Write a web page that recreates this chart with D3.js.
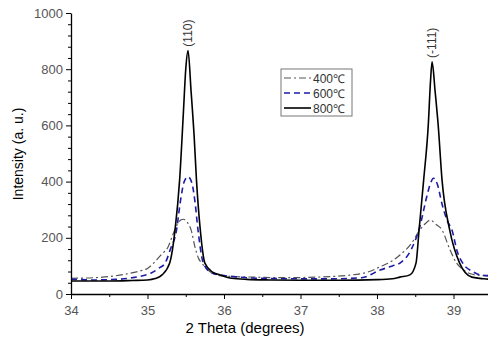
<!DOCTYPE html>
<html>
<head>
<meta charset="utf-8">
<script src="https://cdn.jsdelivr.net/npm/d3@7"></script>
<style>
	body{margin:0;background:#fff;}
	svg{display:block;font-family:"Liberation Sans",Arial,sans-serif;}
</style>
</head>
<body>
<div id="container"></div>
<script>
// values: 2theta (deg) and intensity (a.u.)
var x400 = [34.0,34.3,34.5,34.7,34.9,35.0,35.08,35.18,35.27,35.33,35.39,35.44,35.47,35.52,35.57,35.62,35.67,35.71,35.78,35.86,36.0,36.4,36.8,37.2,37.6,37.9,38.04,38.2,38.3,38.45,38.56,38.63,38.7,38.76,38.85,38.95,39.04,39.12,39.22,39.35,39.5];
var y400 = [56,58,62,70,82,91,110,140,168,210,248,264,266,255,228,168,125,110,88,72,64,60,58,60,66,80,97,118,139,180,228,250,263,250,228,160,110,88,72,66,64];

var x600 = [34.0,34.3,34.6,34.8,35.0,35.05,35.15,35.23,35.3,35.38,35.43,35.48,35.53,35.58,35.62,35.66,35.73,35.84,35.95,36.2,36.6,37.0,37.4,37.8,38.04,38.2,38.3,38.45,38.56,38.65,38.7,38.74,38.79,38.85,38.92,38.98,39.05,39.12,39.25,39.35,39.5];
var y600 = [53,50,52,58,70,75,92,110,160,228,330,400,417,395,330,228,110,75,68,60,55,54,54,58,85,100,110,160,240,346,395,412,390,320,260,228,150,110,80,68,65];

var x800 = [34.0,34.5,34.8,35.0,35.1,35.19,35.29,35.36,35.42,35.47,35.5,35.53,35.57,35.61,35.64,35.69,35.75,35.85,35.95,36.1,36.3,36.6,37.0,37.5,38.0,38.2,38.3,38.43,38.51,38.55,38.61,38.67,38.7,38.72,38.76,38.8,38.85,38.95,39.08,39.24,39.4,39.5];
var y800 = [46,46,48,50,55,68,110,228,406,650,800,866,720,560,406,228,110,78,68,56,52,50,49,49,51,54,60,68,110,228,406,600,760,826,720,600,406,228,110,60,54,52];

var seriesNames = ['400\u2103','600\u2103','800\u2103'];
var peakLabels = ['(110)','(-111)'];
var peakPos = [35.53,38.72];
var peakTop = [866,826];
var xTicks = [34,35,36,37,38,39];
var yTicks = [0,200,400,600,800,1000];

var W = 488, H = 341;
var svg = d3.select('#container').append('svg')
	.attr('width',W).attr('height',H);

var x = d3.scaleLinear().domain([34,39.5]).range([71,491.75]);
var y = d3.scaleLinear().domain([0,1000]).range([294,13]);

var series = [
	{name:seriesNames[0],xs:x400,ys:y400,color:'#555',dash:'7,3,2,3',w:1.2},
	{name:seriesNames[1],xs:x600,ys:y600,color:'#1c1ca8',dash:'6,4',w:1.6},
	{name:seriesNames[2],xs:x800,ys:y800,color:'#000',dash:null,w:1.6}
];

var line = d3.line()
	.x(function(d){ return x(d[0]); })
	.y(function(d){ return y(d[1]); })
	.curve(d3.curveMonotoneX);

series.forEach(function(s){
	var pts = s.xs.map(function(v,i){ return [v,s.ys[i]]; });
	svg.append('path')
		.datum(pts)
		.attr('d',line)
		.attr('fill','none')
		.attr('stroke',s.color)
		.attr('stroke-width',s.w)
		.attr('stroke-dasharray',s.dash);
});

//axes
var gx = svg.append('g').attr('transform','translate(0,294)');
gx.call(d3.axisBottom(x).tickValues(xTicks).tickFormat(d3.format('d')).tickSize(5).tickSizeOuter(0));
gx.append('g').call(d3.axisBottom(x).tickValues(d3.range(34.5,39.6,1)).tickFormat('').tickSize(3).tickSizeOuter(0))
	.select('.domain').remove();
gx.selectAll('.domain').attr('stroke','#000').attr('stroke-width',1.3);
gx.selectAll('text').attr('fill','#555').style('font-size','13px').attr('dy','1em');

var gy = svg.append('g').attr('transform','translate(71,0)');
gy.call(d3.axisLeft(y).tickValues(yTicks).tickFormat(d3.format('d')).tickSize(5).tickSizeOuter(0));
gy.append('g').call(d3.axisLeft(y).tickValues(d3.range(0,1001,40).filter(function(v){ return v%200; })).tickFormat('').tickSize(3).tickSizeOuter(0))
	.select('.domain').remove();
gy.selectAll('.domain').attr('stroke','#000').attr('stroke-width',1.3);
gy.selectAll('text').attr('fill','#555').style('font-size','13px').attr('x',-8);

svg.append('text')
	.attr('x',245).attr('y',333)
	.attr('text-anchor','middle')
	.style('font-size','15px')
	.text('2 Theta (degrees)');

svg.append('text')
	.attr('transform','translate(23,154)rotate(-90)')
	.attr('text-anchor','middle')
	.style('font-size','14px')
	.text('Intensity (a. u.)');

//peak labels
peakLabels.forEach(function(t,i){
	svg.append('text')
		.attr('transform','translate(' +(x(peakPos[i])+4) +',' +(y(peakTop[i])-4) +')rotate(-90)')
		.attr('text-anchor','start')
		.attr('fill','#333')
		.style('font-size','12px')
		.text(t);
});

//legend
var lg = svg.append('g').attr('transform','translate(281,69)');
lg.append('rect')
	.attr('width',71).attr('height',47)
	.attr('fill','#fff').attr('stroke','#777').attr('stroke-width',1);
series.forEach(function(s,i){
	var yy = 9 +i*15;
	lg.append('line')
		.attr('x1',3).attr('x2',30).attr('y1',yy).attr('y2',yy)
		.attr('stroke',s.color).attr('stroke-width',s.w)
		.attr('stroke-dasharray',s.dash);
	lg.append('text')
		.attr('x',32).attr('y',yy+4.5)
		.attr('fill','#333')
		.style('font-size','12px')
		.text(s.name);
});
</script>
</body>
</html>
